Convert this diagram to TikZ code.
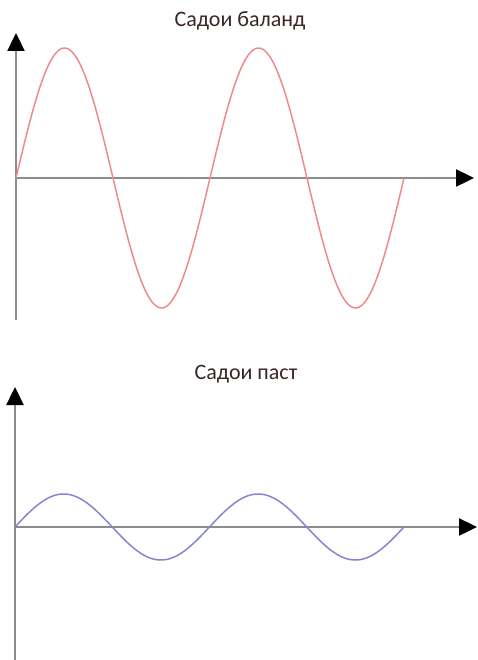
\documentclass[tikz,border=0pt]{standalone}
\usepackage{fontspec}
\setmainfont{Carlito}
\usepackage{tikz}
\usetikzlibrary{arrows.meta}
\definecolor{axisgray}{HTML}{8C8C8C}
\definecolor{hiwave}{HTML}{F08A8A}
\definecolor{lowave}{HTML}{8585D0}
\definecolor{titlebrown}{HTML}{3B2626}
\tikzset{
  axis/.style={draw=axisgray,line width=2.4pt,-{Triangle[length=18pt,width=17pt,black]}},
  wave/.style={line width=1.5pt,samples=200,smooth},
  ttl/.style={font=\fontsize{22}{26}\selectfont,text=titlebrown,inner sep=0pt},
}
\begin{document}
\begin{tikzpicture}[x=1pt,y=-1pt]
\useasboundingbox (0,0) rectangle (478,660);
% high sound
\node[ttl] (hititle) at (240,21) {Садои баланд};
\draw[axis] (16,320) -- (16,33);
\draw[axis] (16,178) -- (474,178);
\draw[wave,hiwave] plot[domain=0:388] ({16+\x},{178-130*sin(\x/194*360)});
% low sound
\node[ttl] (lotitle) at (246,374) {Садои паст};
\draw[axis] (15,662) -- (15,387);
\draw[axis] (15,527) -- (477,527);
\draw[wave,lowave] plot[domain=0:389] ({15+\x},{527-33*sin(\x/194.5*360)});
\end{tikzpicture}
\end{document}
